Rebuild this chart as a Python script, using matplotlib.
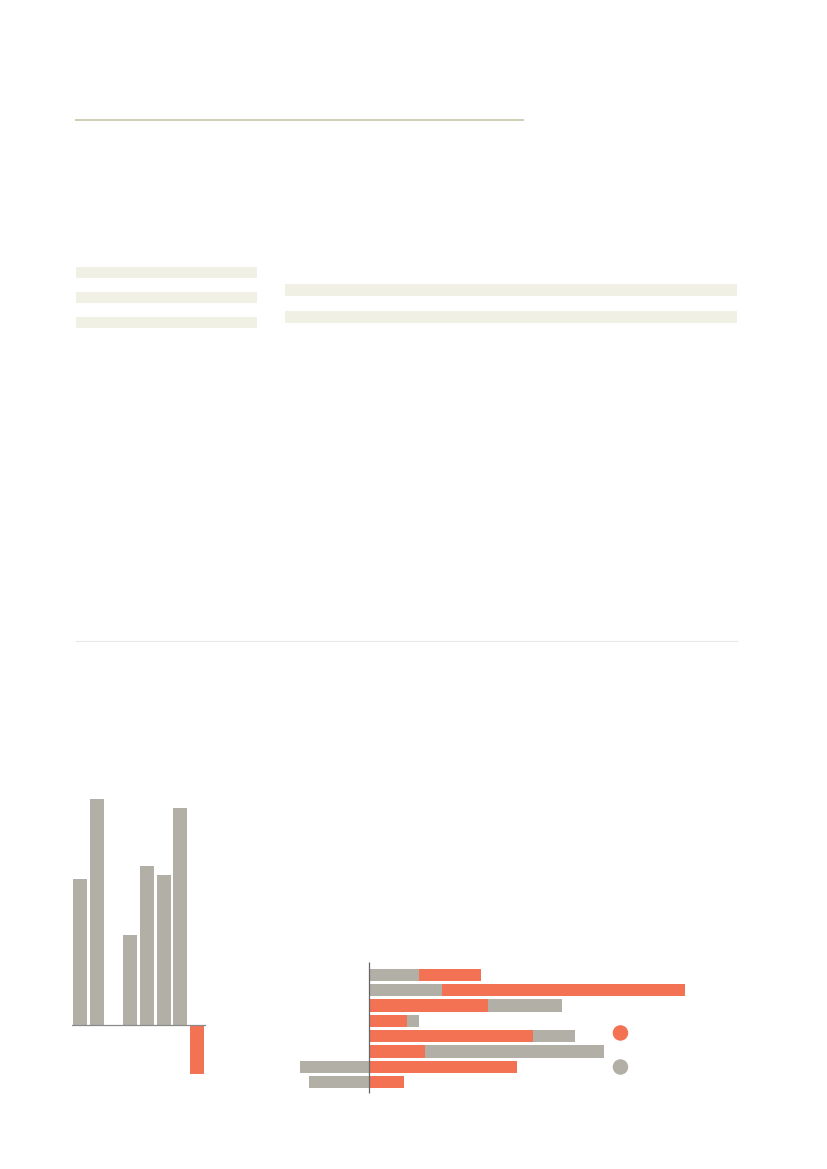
import matplotlib
matplotlib.use("Agg")
import matplotlib.pyplot as plt
from matplotlib.patches import Rectangle

W, H = 827, 1169

ORANGE = "#f37254"
GREY = "#b1afa6"

# left column chart (index 2 is an empty slot)
col_pos = [0, 1, 3, 4, 5, 6, 7]
col_vals = [146, 226, 90, 159, 150, 217, -49]
col_colors = [GREY, GREY, GREY, GREY, GREY, GREY, ORANGE]

# right stacked bar chart, one row per category (top to bottom)
rows = list(range(8))
orange_vals = [62, 243, 119, 38, 164, 56, 148, 35]
grey_vals = [50, 73, 74, 12, 42, 179, -69, -60]
grey_first = [True, True, False, False, False, False, False, False]


def px_axes(fig, x0, y0, x1, y1):
    """Axes placed by pixel box (top-left origin)."""
    return fig.add_axes([x0 / W, 1 - y1 / H, (x1 - x0) / W, (y1 - y0) / H])


fig = plt.figure(figsize=(W / 100, H / 100), dpi=100)

# page decorations in pixel coordinates
bg = px_axes(fig, 0, 0, W, H)
bg.set_xlim(0, W)
bg.set_ylim(H, 0)
bg.axis("off")
bg.plot([76, 523], [120, 120], color="#cbc8b0", lw=1.3)
for y in (267, 292, 317):
    bg.add_patch(Rectangle((76, y), 181, 10.5, color="#f0f0e4", lw=0))
for y in (284, 311):
    bg.add_patch(Rectangle((285, y), 452, 12, color="#f0f0e4", lw=0))
bg.plot([76, 737], [641, 641], color="#e8e8e8", lw=0.8)

# column chart
ax = px_axes(fig, 71.5, 780, 205.5, 1100)
ax.bar(col_pos, col_vals, width=0.84, color=col_colors, edgecolor="none")
ax.axhline(0, color="#8a8a8a", lw=0.9)
ax.set_xlim(-0.5, 7.5)
ax.set_ylim(-75, 245)
ax.axis("off")

# stacked horizontal bars
ax2 = px_axes(fig, 290, 950, 700, 1100)
for r, o, g, gf in zip(rows, orange_vals, grey_vals, grey_first):
    if g < 0:
        ax2.barh(r, g, height=0.8, color=GREY, edgecolor="none")
        ax2.barh(r, o, height=0.8, color=ORANGE, edgecolor="none")
    elif gf:
        ax2.barh(r, g, height=0.8, color=GREY, edgecolor="none")
        ax2.barh(r, o, left=g, height=0.8, color=ORANGE, edgecolor="none")
    else:
        ax2.barh(r, o, height=0.8, color=ORANGE, edgecolor="none")
        ax2.barh(r, g, left=o, height=0.8, color=GREY, edgecolor="none")
ax2.vlines(0, -0.85, 7.7, color="#666666", lw=0.9)
ax2.set_xlim(-79, 331)
ax2.set_ylim(8.17, -1.63)
ax2.axis("off")

# legend dots
ax2.scatter([0.806, 0.806], [0.447, 0.22], s=125, c=[ORANGE, GREY],
            transform=ax2.transAxes, clip_on=False, linewidths=0)

fig.savefig("out.png", dpi=100)
